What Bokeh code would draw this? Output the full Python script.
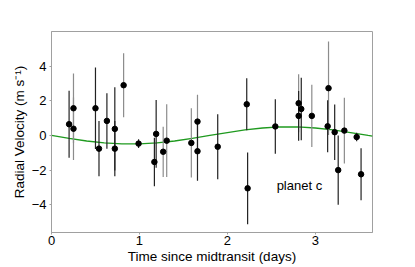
from bokeh.plotting import figure
from bokeh.models import Range1d, FixedTicker, CustomJSTickFormatter, Label
from bokeh.embed import file_html
from bokeh.resources import INLINE

# Instrument A (dark error bars)
a_t = [0.20, 0.50, 0.54, 0.63, 0.72, 0.72, 0.99, 1.19, 1.17, 1.66, 1.89, 2.22, 2.23,
       2.545, 2.84, 2.81, 3.14, 3.22, 3.47, 3.26, 3.52]
a_rv = [0.65, 1.57, -0.76, 0.84, 0.38, -0.76, -0.47, 0.09, -1.53, -0.91, -0.65, 1.80, -3.05,
        0.52, 1.53, 1.13, 0.53, 0.19, -0.09, -2.00, -2.24]
a_err = [1.93, 2.35, 1.60, 1.60, 2.40, 1.60, 0.25, 1.96, 1.40, 1.70, 1.88, 1.50, 2.07,
         1.57, 1.80, 1.43, 1.50, 1.60, 0.25, 2.00, 1.50]

# Instrument B (grey error bars)
b_t = [0.25, 0.25, 0.82, 1.27, 1.31, 1.59, 1.66, 2.81, 2.96, 3.15, 3.33]
b_rv = [1.57, 0.39, 2.90, -0.94, -0.30, -0.43, 0.80, 1.86, 1.13, 2.73, 0.28]
b_err = [2.00, 1.80, 1.85, 1.45, 2.10, 2.00, 1.55, 1.68, 1.80, 2.70, 1.90]

# Orbital model for planet c
model_t = [0.0, 0.2, 0.4, 0.6, 0.8, 1.0, 1.2, 1.4, 1.6, 1.8, 2.0, 2.2, 2.4, 2.6, 2.8,
           3.0, 3.2, 3.4, 3.6, 3.65]
model_rv = [0.0, -0.17, -0.32, -0.43, -0.49, -0.49, -0.43, -0.32, -0.17, 0.0, 0.17, 0.32,
            0.43, 0.49, 0.49, 0.43, 0.32, 0.17, 0.0, -0.04]

x_ticks = [0, 1, 2, 3]
y_ticks = [-4, -2, 0, 2, 4]

FONT = "Liberation Sans"
GREY = "#a0a0a0"

p = figure(output_backend="svg", toolbar_location=None,
           frame_width=321, frame_height=201,
           min_border_left=51, min_border_top=31, min_border_right=30, min_border_bottom=33,
           x_range=Range1d(0, 3.65), y_range=Range1d(-5.6, 6.0),
           background_fill_color="white", border_fill_color="white")

p.grid.visible = False
p.outline_line_color = GREY
p.outline_line_width = 1

p.line(model_t, model_rv, line_color="#1f9a1f", line_width=1.3)

a_lo = [v - e for v, e in zip(a_rv, a_err)]
a_hi = [v + e for v, e in zip(a_rv, a_err)]
b_lo = [v - e for v, e in zip(b_rv, b_err)]
b_hi = [v + e for v, e in zip(b_rv, b_err)]

p.segment(x0=b_t, y0=b_lo, x1=b_t, y1=b_hi, line_color="#8c8c8c", line_width=1.2)
p.segment(x0=a_t, y0=a_lo, x1=a_t, y1=a_hi, line_color="#222222", line_width=1.2)
p.scatter(b_t, b_rv, size=5.5, fill_color="black", line_color="black")
p.scatter(a_t, a_rv, size=5.5, fill_color="black", line_color="black")

p.add_layout(Label(x=2.56, y=-2.86, text="planet c", text_font=FONT,
                   text_font_size="13px", text_color="black",
                   text_baseline="alphabetic"))

fmt = CustomJSTickFormatter(code="return tick < 0 ? '\u2212' + Math.abs(tick) : String(tick);")

p.xaxis.ticker = FixedTicker(ticks=x_ticks)
p.yaxis.ticker = FixedTicker(ticks=y_ticks)
p.yaxis.formatter = fmt
p.xaxis.axis_label = "Time since midtransit (days)"
p.yaxis.axis_label = "Radial Velocity (m s\u207b\u00b9)"

for ax in (p.xaxis, p.yaxis):
    ax.axis_line_color = GREY
    ax.major_tick_line_color = GREY
    ax.major_tick_in = 0
    ax.major_tick_out = 2
    ax.minor_tick_line_color = None
    ax.major_label_text_font = FONT
    ax.major_label_text_font_size = "13px"
    ax.major_label_text_color = "black"
    ax.axis_label_text_font = FONT
    ax.axis_label_text_font_size = "13.5px"
    ax.axis_label_text_font_style = "normal"
    ax.axis_label_text_color = "black"

p.xaxis.major_label_standoff = 1
p.xaxis.axis_label_standoff = 1
p.yaxis.major_label_standoff = 3
p.yaxis.axis_label_standoff = 2

open("out.html", "w").write(file_html(p, INLINE))
